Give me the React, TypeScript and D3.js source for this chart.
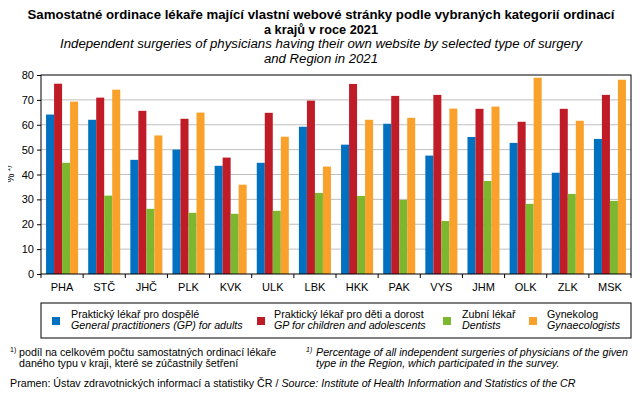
import React, { useEffect, useRef } from "react";
import * as d3 from "d3";

// regions and series
const regions = ["PHA", "STČ", "JHČ", "PLK", "KVK", "ULK", "LBK", "HKK", "PAK", "VYS", "JHM", "OLK", "ZLK", "MSK"];
const gpAdults = [64.1, 62.0, 45.9, 50.0, 43.5, 44.7, 59.2, 52.0, 60.4, 47.6, 55.1, 52.7, 40.7, 54.3];
const gpChildren = [76.5, 70.9, 65.6, 62.4, 46.8, 64.8, 69.7, 76.4, 71.6, 72.0, 66.4, 61.2, 66.4, 72.0];
const dentists = [44.7, 31.5, 26.2, 24.6, 24.2, 25.4, 32.6, 31.4, 29.8, 21.3, 37.4, 28.2, 32.2, 29.4];
const gynaecologists = [69.3, 74.1, 55.7, 64.9, 35.9, 55.2, 43.2, 62.0, 62.8, 66.5, 67.3, 78.9, 61.6, 78.1];

const seriesNames = ["gp", "gpc", "dent", "gyn"];
const seriesColors = ["#0070c0", "#c01c28", "#7db72f", "#f9a12a"];
const legendCz = ["Praktický lékař pro dospělé", "Praktický lékař pro děti a dorost", "Zubní lékař", "Gynekolog"];
const legendEn = ["General practitioners (GP) for adults", "GP for children and adolescents", "Dentists", "Gynaecologists"];
const yTicks = [0, 10, 20, 30, 40, 50, 60, 70, 80];

const W = 643;
const H = 397;
const FONT = "'Liberation Sans', Arial, sans-serif";

const App: React.FC = () => {
  const ref = useRef<SVGSVGElement>(null);

  useEffect(() => {
    const svg = d3.select(ref.current);
    svg.selectAll("*").remove();
    svg.attr("font-family", FONT);

    const left = 41, right = 631, top = 75, bottom = 274;
    const values = [gpAdults, gpChildren, dentists, gynaecologists];

    const x0 = d3.scaleBand<string>().domain(regions).range([left, right]).paddingInner(0.24).paddingOuter(0.12);
    const x1 = d3.scaleBand<string>().domain(seriesNames).range([0, x0.bandwidth()]);
    const y = d3.scaleLinear().domain([0, 80]).range([bottom, top]);

    // title
    const t = svg.append("g").attr("text-anchor", "middle");
    t.append("text").attr("x", 321).attr("y", 19).attr("font-size", 12.5).attr("font-weight", "bold")
      .attr("textLength", 587).attr("lengthAdjust", "spacingAndGlyphs")
      .text("Samostatné ordinace lékaře mající vlastní webové stránky  podle vybraných  kategorií ordinací");
    t.append("text").attr("x", 321).attr("y", 34).attr("font-size", 12.5).attr("font-weight", "bold")
      .attr("textLength", 114).attr("lengthAdjust", "spacingAndGlyphs")
      .text("a krajů v roce 2021");
    t.append("text").attr("x", 321).attr("y", 48).attr("font-size", 12.5).attr("font-style", "italic")
      .attr("textLength", 522).attr("lengthAdjust", "spacingAndGlyphs")
      .text("Independent  surgeries of physicians having their own website by selected type of surgery");
    t.append("text").attr("x", 321).attr("y", 63).attr("font-size", 12.5).attr("font-style", "italic")
      .attr("textLength", 114).attr("lengthAdjust", "spacingAndGlyphs")
      .text("and Region in 2021");

    // grid
    svg.append("g").selectAll("line").data(yTicks.filter((d) => d > 0 && d < 80)).join("line")
      .attr("x1", left).attr("x2", right).attr("y1", (d) => y(d)).attr("y2", (d) => y(d))
      .attr("stroke", "#bfbfbf").attr("stroke-width", 1);

    // bars
    regions.forEach((r, i) => {
      values.forEach((vals, s) => {
        svg.append("rect")
          .attr("x", (x0(r) as number) + (x1(seriesNames[s]) as number))
          .attr("y", y(vals[i]))
          .attr("width", x1.bandwidth())
          .attr("height", y(0) - y(vals[i]))
          .attr("fill", seriesColors[s]);
      });
    });

    // frame
    svg.append("rect").attr("x", left).attr("y", top).attr("width", right - left).attr("height", bottom - top)
      .attr("fill", "none").attr("stroke", "#000").attr("stroke-width", 1);

    // y axis
    const ya = svg.append("g").attr("transform", `translate(${left},0)`)
      .call(d3.axisLeft(y).tickValues(yTicks).tickSize(4).tickPadding(3));
    ya.select(".domain").remove();
    ya.selectAll("text").attr("font-size", 11).attr("font-family", FONT).attr("fill", "#000");
    ya.selectAll("line").attr("stroke", "#000");

    // x axis: ticks on category boundaries
    const step = x0.step();
    const bounds = d3.range(regions.length + 1).map((k) => left + k * step);
    svg.append("g").selectAll("line").data(bounds).join("line")
      .attr("x1", (d) => d).attr("x2", (d) => d).attr("y1", bottom).attr("y2", bottom + 4)
      .attr("stroke", "#000");
    svg.append("g").selectAll("text").data(regions).join("text")
      .attr("x", (d) => (x0(d) as number) + x0.bandwidth() / 2)
      .attr("y", 291).attr("text-anchor", "middle").attr("font-size", 11).text((d) => d);

    // y label
    const yl = svg.append("text").attr("transform", "translate(14,174) rotate(-90)")
      .attr("text-anchor", "middle").attr("font-size", 10);
    yl.append("tspan").text("%");
    yl.append("tspan").attr("font-size", 7).attr("dy", -4).text(" 1)");

    // legend
    svg.append("rect").attr("x", left).attr("y", 303).attr("width", right - left).attr("height", 35)
      .attr("fill", "none").attr("stroke", "#000").attr("stroke-width", 1);
    const sqX = [52, 257, 443, 529];
    const txX = [71, 274, 462, 547];
    seriesColors.forEach((c, s) => {
      svg.append("rect").attr("x", sqX[s]).attr("y", 317).attr("width", 8).attr("height", 8).attr("fill", c);
      svg.append("text").attr("x", txX[s]).attr("y", 318).attr("font-size", 10.7).text(legendCz[s]);
      svg.append("text").attr("x", txX[s]).attr("y", 329).attr("font-size", 10.7).attr("font-style", "italic").text(legendEn[s]);
    });

    // footnotes
    const fs = 10.7;
    svg.append("text").attr("x", 10).attr("y", 352).attr("font-size", 7).text("1)");
    svg.append("text").attr("x", 19).attr("y", 356).attr("font-size", fs).text("podíl na celkovém počtu samostatných ordinací lékaře");
    svg.append("text").attr("x", 19).attr("y", 367).attr("font-size", fs).text("daného typu v kraji, které se zúčastnily šetření");
    svg.append("text").attr("x", 306).attr("y", 352).attr("font-size", 7).attr("font-style", "italic").text("1)");
    svg.append("text").attr("x", 316).attr("y", 356).attr("font-size", fs).attr("font-style", "italic")
      .attr("textLength", 312).attr("lengthAdjust", "spacingAndGlyphs")
      .text("Percentage of all independent surgeries of physicians of the given");
    svg.append("text").attr("x", 316).attr("y", 367).attr("font-size", fs).attr("font-style", "italic")
      .text("type in the Region, which participated in the survey.");
    const src = svg.append("text").attr("x", 10).attr("y", 387).attr("font-size", fs);
    src.append("tspan").text("Pramen:  Ústav zdravotnických informací a statistiky ČR / ");
    src.append("tspan").attr("font-style", "italic").text("Source: Institute of Health Information and Statistics of the CR");
  }, []);

  return (
    <div style={{ margin: -8 }}>
      <svg ref={ref} width={W} height={H} style={{ display: "block", background: "#fff" }} />
    </div>
  );
};

export default App;
